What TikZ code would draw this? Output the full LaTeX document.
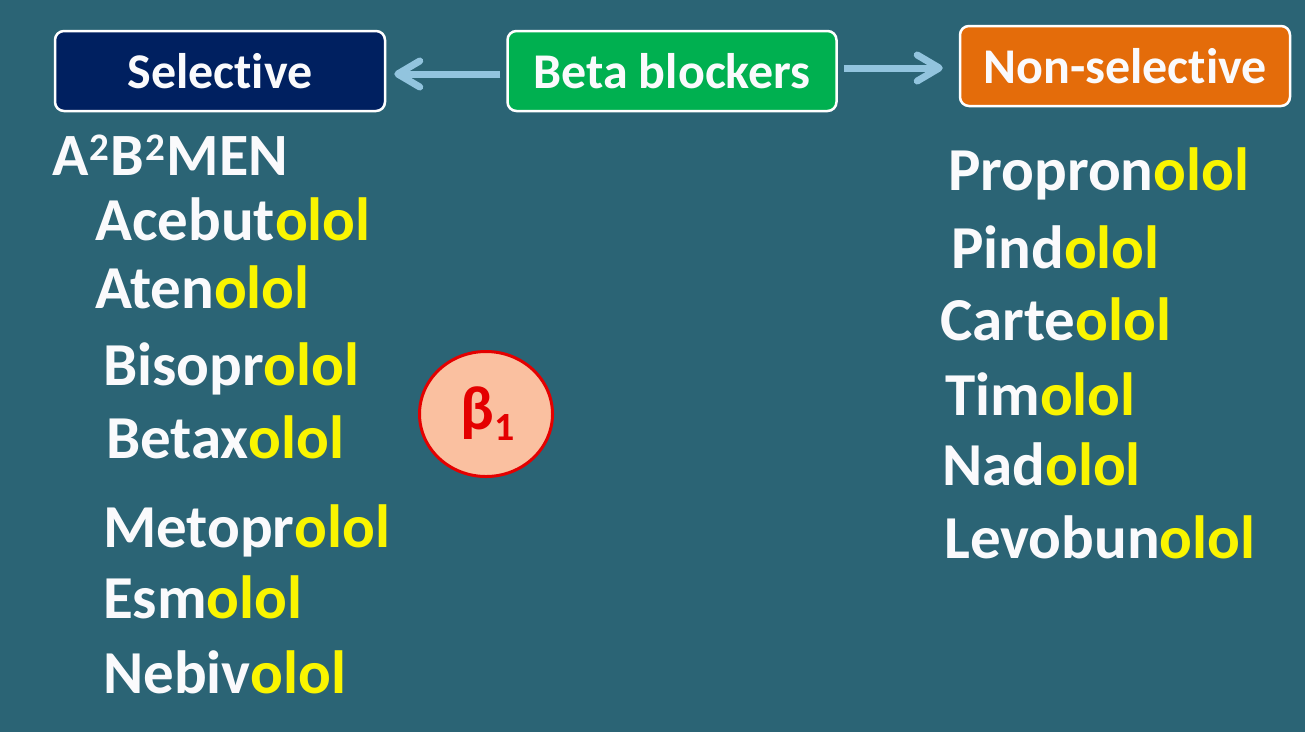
\documentclass[tikz,border=0pt]{standalone}
\usepackage{fontspec}
\setmainfont{Carlito}[Ligatures=NoCommon]
\usetikzlibrary{arrows.meta,shapes.geometric}
\definecolor{bg}{RGB}{43,100,117}
\definecolor{navybox}{RGB}{0,32,96}
\definecolor{greenbox}{RGB}{0,176,80}
\definecolor{orangebox}{RGB}{228,108,10}
\definecolor{arrowblue}{RGB}{146,196,222}
\definecolor{ololy}{RGB}{250,245,0}
\definecolor{txtw}{RGB}{250,250,252}
\definecolor{circfill}{RGB}{250,192,160}
\definecolor{circred}{RGB}{228,0,0}
\newcommand{\olol}{\textcolor{ololy}{olol}}
\newcommand{\suptwo}{\hspace{1pt}\raisebox{15pt}{\fontsize{39}{39}\selectfont 2}\hspace{1.5pt}}
\tikzset{
  hbox/.style={draw=white, line width=2.5pt, rounded corners=9pt, minimum width=330pt, minimum height=80pt,
    inner sep=0pt, text=txtw, font=\fontsize{50}{50}\selectfont\bfseries},
  drug/.style={anchor=base west, inner sep=0pt, text=txtw, font=\fontsize{61}{61}\selectfont\bfseries},
  arr/.style={draw=arrowblue, line width=7pt, -{Straight Barb[length=22pt,width=26pt,round]}}
}
\begin{document}
\begin{tikzpicture}[x=1pt,y=-1pt]
\fill[bg] (0,0) rectangle (1305,732);
\useasboundingbox (0,0) rectangle (1305,732);
\node[hbox, fill=navybox] (sel) at (220,71) {Selective};
\node[hbox, fill=greenbox, minimum width=329pt] (beta) at (672,71) {Beta blockers};
\node[hbox, fill=orangebox] (nonsel) at (1125,66) {Non-selective};
\draw[arr, shorten <=6pt, shorten >=8pt] ([yshift=-3pt]beta.west) -- ([yshift=-3pt]sel.east);
\draw[arr, shorten <=6pt, shorten >=16pt] ([yshift=3pt]beta.east) -- ([yshift=-2pt]nonsel.west);
% left column
\node[drug, font=\fontsize{60}{60}\selectfont\bfseries] (mnem) at (52,175) {A\suptwo B\suptwo MEN};
\node[drug] (d1) at (95,240) {Acebut\olol};
\node[drug] (d2) at (95,308) {Aten\olol};
\node[drug] (d3) at (103,385) {Bisopr\olol};
\node[drug] (d4) at (106,458) {Betax\olol};
\node[drug] (d5) at (103,547) {Metopr\olol};
\node[drug] (d6) at (103,618) {Esm\olol};
\node[drug] (d7) at (103,693) {Nebiv\olol};
% right column
\node[drug] (n1) at (948,190) {Propron\olol};
\node[drug] (n2) at (951,268) {Pind\olol};
\node[drug] (n3) at (940,340) {Carte\olol};
\node[drug] (n4) at (945,415) {Tim\olol};
\node[drug] (n5) at (942,485) {Nad\olol};
\node[drug] (n6) at (944,558) {Levobun\olol};
% beta1 circle
\node[ellipse, draw=circred, fill=circfill, line width=3pt, minimum width=133pt, minimum height=125pt, inner sep=0pt,
  text=circred, font=\fontsize{62}{62}\selectfont\bfseries] (b1) at (486,414)
  {\hspace*{3pt}β\raisebox{-11pt}{\fontsize{40}{40}\selectfont 1}};
\end{tikzpicture}
\end{document}
